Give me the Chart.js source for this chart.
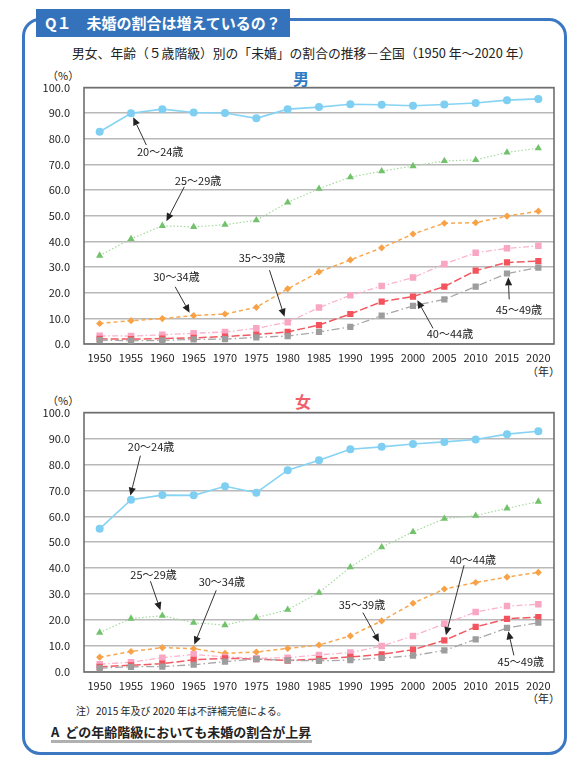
<!DOCTYPE html>
<html lang="ja">
<head>
<meta charset="utf-8">
<title>未婚の割合</title>
<script src="https://cdn.jsdelivr.net/npm/chart.js@4.4.1/dist/chart.umd.min.js"></script>
<style>
  html, body { margin: 0; padding: 0; background: #fff; }
  body { width: 581px; height: 770px; position: relative; overflow: hidden;
         font-family: "Noto Sans CJK JP", "Noto Sans", sans-serif; color: #222; }
  .abs { position: absolute; white-space: nowrap; }
  #frame { left: 22px; top: 18px; width: 545px; height: 737px; box-sizing: border-box;
           border: 3.5px solid #3b78c1; border-radius: 18px; }
  #title { left: 36px; top: 9px; width: 254px; height: 28px; background: #3473bb; color: #fff;
           font-weight: bold; font-size: 15px; line-height: 28px; padding-left: 9px; box-sizing: border-box; }
  #sub { left: 72px; top: 43px; font-size: 12.8px; }
  .pct { font-size: 11px; }
  .sex { font-size: 16px; font-weight: bold; }
  .nen { font-size: 11px; }
  #note { left: 76px; top: 703px; font-size: 10px; }
  #answer { left: 51px; top: 723px; font-size: 13px; font-weight: bold;
            border-bottom: 3px solid #b0b0b0; line-height: 17px; padding-right: 1px; }
  canvas { position: absolute; }
</style>
</head>
<body>
<div id="frame" class="abs"></div>
<div id="title" class="abs">Q１　未婚の割合は増えているの？</div>
<div id="sub" class="abs">男女、年齢（５歳階級）別の「未婚」の割合の推移－全国（1950 年～2020 年）</div>

<div class="abs pct" style="left:47px;top:67px;">（%）</div>
<div class="abs sex" style="left:293px;top:66px;color:#2f7ac4;">男</div>
<div class="abs nen" style="left:527px;top:363px;">（年）</div>

<div class="abs pct" style="left:47px;top:392px;">（%）</div>
<div class="abs sex" style="left:295px;top:389px;color:#f0606a;">女</div>
<div class="abs nen" style="left:527px;top:690px;">（年）</div>

<div id="note" class="abs">注）2015 年及び 2020 年は不詳補完値による。</div>
<div id="answer" class="abs">A&nbsp;&nbsp;どの年齢階級においても未婚の割合が上昇</div>

<canvas id="maleChart" width="536" height="303" style="left:24px;top:67px;width:536px;height:303px;"></canvas>
<canvas id="femaleChart" width="536" height="306" style="left:24px;top:392px;width:536px;height:306px;"></canvas>

<script>
// 調査年
const years = ['1950', '1955', '1960', '1965', '1970', '1975', '1980', '1985',
               '1990', '1995', '2000', '2005', '2010', '2015', '2020'];
const ageGroups = ['20～24歳', '25～29歳', '30～34歳', '35～39歳', '40～44歳', '45～49歳'];

// 男 (%)
const male20_24 = [82.8, 90.0, 91.6, 90.3, 90.1, 88.0, 91.6, 92.4, 93.5, 93.3, 92.9, 93.4, 94.0, 95.1, 95.6];
const male25_29 = [34.5, 41.0, 46.1, 45.7, 46.5, 48.3, 55.2, 60.6, 65.1, 67.4, 69.4, 71.4, 71.8, 74.7, 76.4];
const male30_34 = [8.0, 9.1, 9.9, 11.1, 11.7, 14.3, 21.5, 28.1, 32.8, 37.5, 42.9, 47.1, 47.3, 49.9, 51.8];
const male35_39 = [3.2, 3.1, 3.6, 4.2, 4.7, 6.1, 8.5, 14.2, 19.0, 22.6, 25.9, 31.2, 35.6, 37.3, 38.3];
const male40_44 = [2.0, 1.9, 2.1, 2.4, 2.9, 3.7, 4.7, 7.4, 11.7, 16.5, 18.5, 22.4, 28.6, 31.8, 32.3];
const male45_49 = [1.5, 1.3, 1.4, 1.8, 1.9, 2.6, 3.1, 4.7, 6.7, 11.1, 14.9, 17.4, 22.4, 27.5, 29.8];

// 女 (%)
const female20_24 = [55.2, 66.4, 68.2, 68.1, 71.6, 69.1, 77.8, 81.6, 85.9, 86.8, 87.9, 88.7, 89.6, 91.7, 92.8];
const female25_29 = [15.2, 20.6, 21.7, 19.0, 18.1, 20.9, 24.0, 30.6, 40.4, 48.1, 54.0, 59.1, 60.3, 63.1, 65.7];
const female30_34 = [5.7, 7.9, 9.4, 9.0, 7.2, 7.7, 9.1, 10.4, 13.9, 19.7, 26.5, 32.0, 34.5, 36.6, 38.4];
const female35_39 = [3.0, 3.8, 5.5, 6.8, 5.8, 5.3, 5.5, 6.6, 7.5, 10.0, 13.9, 18.6, 23.1, 25.4, 26.1];
const female40_44 = [2.0, 2.6, 3.2, 4.7, 5.3, 5.0, 4.4, 5.0, 5.8, 6.8, 8.6, 12.2, 17.4, 20.5, 21.2];
const female45_49 = [1.5, 2.0, 2.1, 2.8, 4.0, 5.0, 4.5, 4.3, 4.6, 5.4, 6.3, 8.3, 12.6, 17.0, 19.0];

// 引き出し線の位置 (カテゴリ番号, 値) : [ラベル, 線の始点, 矢印の先]
const maleNotes = [
  { label: [1.93, 74.8], from: [1.49, 77.6], to: [1.07, 88.4] },
  { label: [3.14, 63.6], from: [2.70, 61.3], to: [2.13, 47.9] },
  { label: [2.45, 26.1], from: [2.41, 22.3], to: [2.87, 12.2] },
  { label: [5.18, 33.8], from: [5.42, 28.8], to: [5.90, 10.6] },
  { label: [11.18, 3.8], from: [10.64, 6.1], to: [10.14, 17.1] },
  { label: [13.38, 13.5], from: [13.07, 17.4], to: [13.04, 26.0] }
];
const femaleNotes = [
  { label: [1.64, 86.9], from: [1.30, 83.4], to: [0.98, 68.0] },
  { label: [1.72, 37.3], from: [1.62, 35.0], to: [1.94, 23.8] },
  { label: [3.90, 34.7], from: [3.72, 31.5], to: [3.02, 10.6] },
  { label: [8.37, 26.0], from: [8.40, 22.9], to: [8.92, 11.6] },
  { label: [11.91, 43.4], from: [11.63, 41.2], to: [11.05, 14.2] },
  { label: [13.44, 4.1], from: [13.22, 6.4], to: [13.04, 15.7] }
];

const FONT = '"Noto Sans CJK JP", "Noto Sans", sans-serif';

// 系列ごとの線・マーカーの見た目
const styles = [
  { line: '#86d3f3', point: '#7fcff2', dash: [], width: 1.6, shape: 'circle', r: 4 },
  { line: '#a6da9f', point: '#72c26c', dash: [1.5, 2], width: 1.2, shape: 'triangle', r: 4.2 },
  { line: '#f7a850', point: '#f7a247', dash: [4, 3], width: 1.5, shape: 'rectRot', r: 3.6 },
  { line: '#fbb3cc', point: '#f9a6c4', dash: [6, 2.5, 1.5, 2.5], width: 1.3, shape: 'rect', r: 4.6 },
  { line: '#f05a62', point: '#f2535c', dash: [8, 3], width: 1.5, shape: 'rect', r: 4.4 },
  { line: '#a7a7a7', point: '#9d9d9d', dash: [8, 3, 1.5, 3], width: 1.3, shape: 'rect', r: 4.4 }
];

function buildDatasets(seriesList) {
    return seriesList.map((values, i) => {
        let s = styles[i];
        return {
            label: ageGroups[i],
            data: values,
            borderColor: s.line,
            borderWidth: s.width,
            borderDash: s.dash,
            backgroundColor: s.point,
            pointBackgroundColor: s.point,
            pointBorderColor: s.point,
            pointBorderWidth: 0,
            pointStyle: s.shape,
            pointRadius: s.r,
            tension: 0,
            order: 6 - i
        };
    }).reverse();
}

// 枠線
const framePlugin = {
    id: 'frame',
    beforeDatasetsDraw(chart) {
        let a = chart.chartArea;
        let ctx = chart.ctx;
        ctx.save();
        ctx.strokeStyle = '#6f6f6f';
        ctx.lineWidth = 1.6;
        ctx.strokeRect(a.left, a.top, a.right - a.left, a.bottom - a.top);
        ctx.restore();
    }
};

// 年齢ラベルと矢印
const notesPlugin = {
    id: 'notes',
    afterDatasetsDraw(chart, args, opts) {
        let xs = chart.scales.x, ys = chart.scales.y;
        let ctx = chart.ctx;
        let px = p => [xs.getPixelForValue(p[0]), ys.getPixelForValue(p[1])];
        ctx.save();
        opts.items.forEach((n, i) => {
            let [lx, ly] = px(n.label);
            let [fx, fy] = px(n.from);
            let [tx, ty] = px(n.to);
            ctx.font = '11px ' + FONT;
            ctx.fillStyle = '#222';
            ctx.textAlign = 'center';
            ctx.textBaseline = 'middle';
            ctx.fillText(ageGroups[i], lx, ly);

            let ang = Math.atan2(ty - fy, tx - fx);
            let head = 8, half = 3.6;
            let bx = tx - head * Math.cos(ang), by = ty - head * Math.sin(ang);
            ctx.strokeStyle = '#333';
            ctx.lineWidth = 1;
            ctx.beginPath();
            ctx.moveTo(fx, fy);
            ctx.lineTo(bx, by);
            ctx.stroke();
            ctx.fillStyle = '#222';
            ctx.beginPath();
            ctx.moveTo(tx, ty);
            ctx.lineTo(bx + half * Math.sin(ang), by - half * Math.cos(ang));
            ctx.lineTo(bx - half * Math.sin(ang), by + half * Math.cos(ang));
            ctx.closePath();
            ctx.fill();
        });
        ctx.restore();
    }
};

function makeChart(id, seriesList, notes) {
    let ctx = document.getElementById(id);
    return new Chart(ctx, {
        type: 'line',
        data: { labels: years, datasets: buildDatasets(seriesList) },
        plugins: [framePlugin, notesPlugin],
        options: {
            responsive: false,
            animation: false,
            layout: { padding: { top: 0, right: 6, left: 0, bottom: 0 } },
            plugins: {
                legend: { display: false },
                tooltip: { enabled: false },
                notes: { items: notes }
            },
            scales: {
                x: {
                    offset: true,
                    grid: { display: false, drawTicks: false },
                    border: { display: false },
                    ticks: { color: '#222', font: { family: FONT, size: 11 }, padding: 7, maxRotation: 0, autoSkip: false },
                    afterFit(scale) { scale.height = 26; }
                },
                y: {
                    min: 0,
                    max: 100,
                    grid: { color: '#b9b9b9', lineWidth: 1.6, drawTicks: false },
                    border: { display: false },
                    ticks: {
                        stepSize: 10,
                        color: '#222',
                        padding: 14,
                        font: { family: FONT, size: 11 },
                        callback: v => v.toFixed(1)
                    },
                    afterFit(scale) { scale.width = 60; }
                }
            }
        }
    });
}

function drawAll() {
    makeChart('maleChart', [male20_24, male25_29, male30_34, male35_39, male40_44, male45_49], maleNotes);
    makeChart('femaleChart', [female20_24, female25_29, female30_34, female35_39, female40_44, female45_49], femaleNotes);
}

if (document.fonts && document.fonts.load) {
    document.fonts.load('11px "Noto Sans CJK JP"').then(drawAll, drawAll);
} else {
    drawAll();
}
</script>
</body>
</html>
